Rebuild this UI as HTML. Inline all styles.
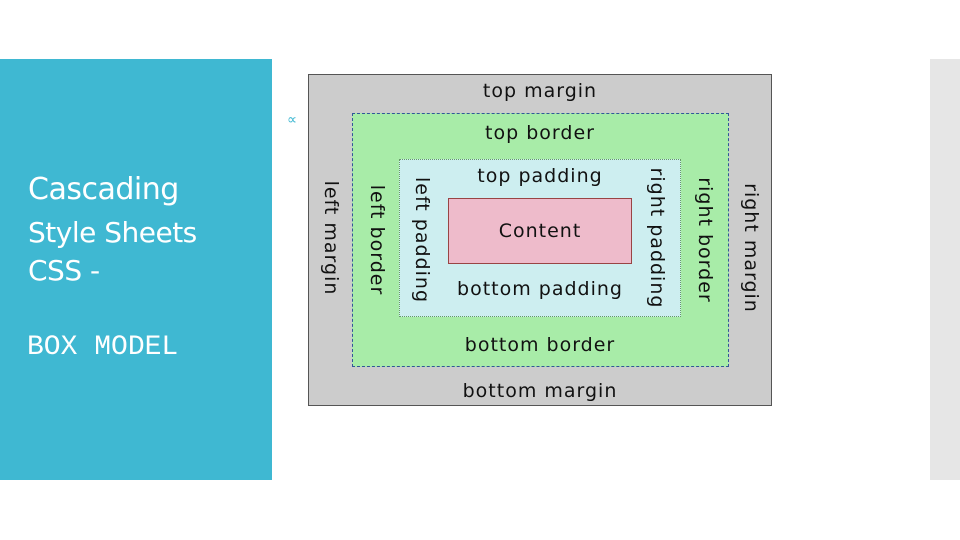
<!DOCTYPE html>
<html><head><style>
body{margin:0;width:960px;height:540px;background:#fff;position:relative;overflow:hidden;font-family:"DejaVu Sans",sans-serif}
.a{position:absolute}
.t{position:absolute;font-size:19px;letter-spacing:1px;color:#111;white-space:nowrap;transform:translate(-50%,-50%)}
.v{transform:translate(-50%,-50%) rotate(90deg)}
</style></head><body>
<div class="a" style="left:0;top:59px;width:272px;height:421px;background:#3fb8d2"></div>
<div class="a" style="left:930px;top:59px;width:30px;height:421px;background:#e6e6e6"></div>
<div class="a" style="left:28px;top:170px;color:#fff;font-family:'DejaVu Sans',sans-serif;font-size:30px;line-height:40px;letter-spacing:-0.5px">Cascading</div>
<div class="a" style="left:28px;top:214px;color:#fff;font-size:28px;line-height:38px;letter-spacing:-0.5px">Style Sheets<br>CSS -</div>
<div class="a" style="left:27px;top:332px;color:#fff;font-family:'Liberation Mono',monospace;font-size:28px">BOX MODEL</div>
<div class="a" style="left:287px;top:112px;color:#3fb8d2;font-size:14px">∝</div>

<div class="a" style="left:308px;top:74px;width:462px;height:330px;background:#cccccc;border:1px solid #555"></div>
<div class="a" style="left:352px;top:113px;width:375px;height:252px;background:#a8eca8;border:1px dashed #335599"></div>
<div class="a" style="left:399px;top:159px;width:280px;height:156px;background:#cdeef0;border:1px dotted #669966"></div>
<div class="a" style="left:448px;top:198px;width:182px;height:64px;background:#eebbcb;border:1px solid #994444"></div>

<div class="t" style="left:540px;top:91px">top margin</div>
<div class="t" style="left:540px;top:133px">top border</div>
<div class="t" style="left:540px;top:176px">top padding</div>
<div class="t" style="left:540px;top:231px">Content</div>
<div class="t" style="left:540px;top:289px">bottom padding</div>
<div class="t" style="left:540px;top:345px">bottom border</div>
<div class="t" style="left:540px;top:391px">bottom margin</div>
<div class="t v" style="left:331px;top:238px">left margin</div>
<div class="t v" style="left:377px;top:240px">left border</div>
<div class="t v" style="left:422px;top:240px">left padding</div>
<div class="t v" style="left:657px;top:238px">right padding</div>
<div class="t v" style="left:705px;top:240px">right border</div>
<div class="t v" style="left:751px;top:248px">right margin</div>
</body></html>
